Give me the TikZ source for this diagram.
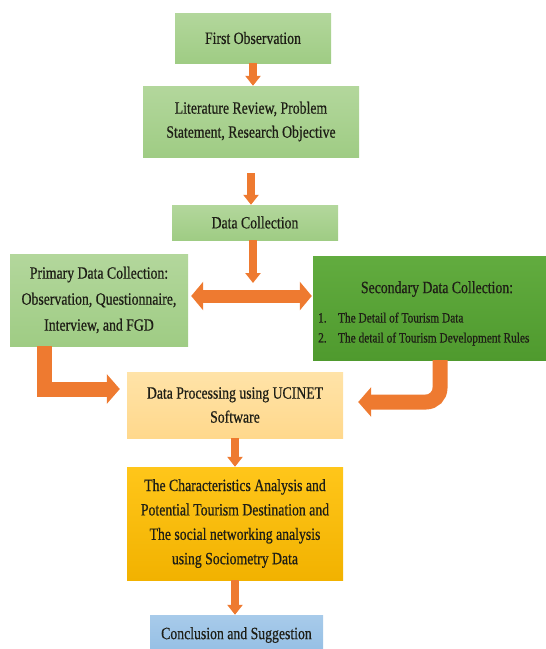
\documentclass[tikz,border=0pt]{standalone}
\usepackage{fontspec}
\setmainfont{Liberation Serif}[FakeStretch=0.8,FakeBold=0.6]
\usetikzlibrary{arrows.meta}
\definecolor{gTop}{HTML}{B3D79C}
\definecolor{gBot}{HTML}{9FCC84}
\definecolor{dTop}{HTML}{62AC3F}
\definecolor{dBot}{HTML}{4F9A2E}
\definecolor{pTop}{HTML}{FFE3A8}
\definecolor{pBot}{HTML}{FFD88C}
\definecolor{yTop}{HTML}{FFC61A}
\definecolor{yBot}{HTML}{F2B200}
\definecolor{bTop}{HTML}{A8CBEA}
\definecolor{bBot}{HTML}{94BEE4}
\definecolor{arrC}{HTML}{EE7A30}
\definecolor{txt}{HTML}{1E1E16}
\begin{document}
\begin{tikzpicture}[x=1pt,y=-1pt,
  box/.style={inner sep=2pt, align=center, text=txt, font=\fontsize{17.2}{24}\selectfont},
  greenbox/.style={box, top color=gTop, bottom color=gBot},
  darkbox/.style={box, top color=dTop, bottom color=dBot},
  procbox/.style={box, top color=pTop, bottom color=pBot},
  yelbox/.style={box, top color=yTop, bottom color=yBot},
  bluebox/.style={box, top color=bTop, bottom color=bBot},
  smallarr/.style={draw=arrC, line width=7.5pt, -{Triangle[length=10pt,width=15pt]}},
  dblarr/.style={draw=arrC, line width=13pt, {Triangle[length=12pt,width=28pt]}-{Triangle[length=12pt,width=28pt]}},
  elbarr/.style={draw=arrC, line width=15pt, -{Triangle[length=13pt,width=29pt]}},
]
\useasboundingbox (0,0) rectangle (546,649);
\begin{scope}
\clip (0,0) rectangle (546,649);

\node[greenbox, minimum width=156pt, minimum height=50pt] (fo) at (253,38) {First Observation};
\node[greenbox, minimum width=216pt, minimum height=71pt] (lit) at (251,121.5)
  {Literature Review, Problem\\Statement, Research Objective};
\node[greenbox, minimum width=166pt, minimum height=35pt] (dc) at (255,222.5) {Data Collection};
\node[greenbox, minimum width=178pt, minimum height=92pt, font=\fontsize{17.2}{26}\selectfont] (prim) at (99,300)
  {Primary Data Collection:\\Observation, Questionnaire,\\Interview, and FGD};
\node[darkbox, minimum width=236pt, minimum height=104pt] (sec) at (431,308) {};
\node[box, anchor=center] (sechead) at (437,289) {Secondary Data Collection:};
\node[box, anchor=west, align=left, font=\fontsize{14.2}{20}\selectfont, inner sep=0pt] (seclist) at (318,329)
  {1.\hspace{0.8em}The Detail of Tourism Data\\2.\hspace{0.8em}The detail of Tourism Development Rules};
\node[procbox, minimum width=216pt, minimum height=66pt] (proc) at (235,405)
  {Data Processing using UCINET\\Software};
\node[yelbox, minimum width=216pt, minimum height=113pt, font=\fontsize{17.2}{24.4}\selectfont] (char) at (235,523.5)
  {The Characteristics Analysis and\\Potential Tourism Destination and\\The social networking analysis\\using Sociometry Data};
\node[bluebox, minimum width=173pt, minimum height=40pt] (conc) at (236.5,635) {\raisebox{2pt}{Conclusion and Suggestion}};

% connectors
\draw[smallarr] (fo.south) -- (fo.south |- lit.north);
\draw[smallarr, shorten <=16pt] (lit.south) -- (lit.south |- dc.north);
\coordinate (dj) at (253,296);
\draw[smallarr, shorten >=13pt] (dc.south -| dj) -- (dj);
\draw[dblarr, shorten <=3pt, shorten >=1pt] (prim.east |- dj) -- (sec.west |- dj);
\coordinate (pc) at (44,389);
\draw[elbarr, shorten >=7pt] (pc |- prim.south) -- (pc) -- (pc -| proc.west);
\coordinate (sc) at (440,402);
\draw[elbarr, rounded corners=14pt, shorten >=15pt] (sc |- sec.south) -- (sc) -- (sc -| proc.east);
\draw[smallarr] (proc.south) -- (char.north);
\draw[smallarr] (char.south) -- (char.south |- conc.north);
\end{scope}
\end{tikzpicture}
\end{document}
